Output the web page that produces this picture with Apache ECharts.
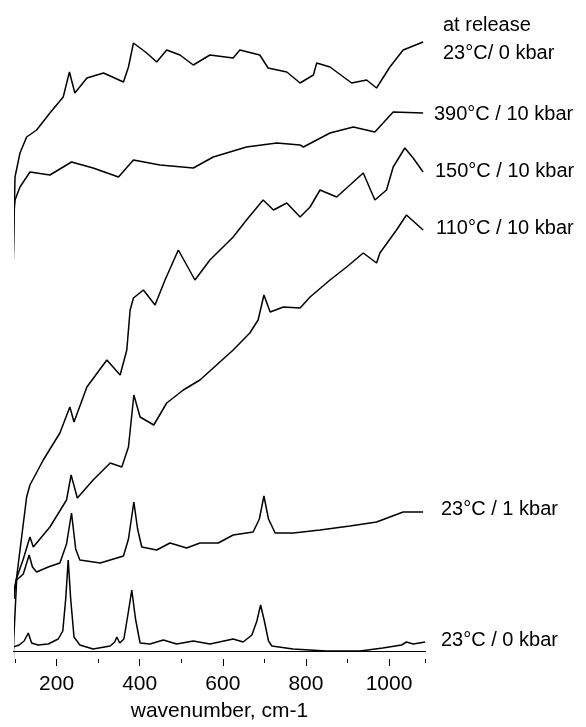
<!DOCTYPE html>
<html>
<head>
<meta charset="utf-8">
<script src="https://cdn.jsdelivr.net/npm/echarts@6/dist/echarts.min.js"></script>
<style>html,body{margin:0;padding:0;background:#fff}#c{width:586px;height:727px}</style>
</head>
<body>
<div id="c"></div>
<script>
// x axis
const xMin = 100, xMax = 1088, minorInterval = 100;
const labelMin = 200, labelInterval = 200;
const xLineStart = 96;
const xTitle = 'wavenumber, cm-1';

// spectra: [wavenumber, intensity (arb. units, offset stacked)]
const spec23C_0kbar = [[96,12],[110,14],[122,18],[132,26],[140,16],[155,14],[180,15],[204,20],[215,28],[222,60],[228,99],[234,60],[242,22],[256,14],[288,10],[329,13],[340,17],[345,22],[352,16],[362,20],[372,45],[381,69],[390,40],[401,16],[425,15],[457,19],[489,15],[529,18],[569,15],[625,20],[649,17],[670,24],[682,38],[691,54],[700,38],[710,18],[718,13],[769,10],[850,8],[930,8],[985,11],[1030,14],[1042,17],[1058,15],[1087,17]];
const spec23C_1kbar = [[96,0],[97,20],[104,79],[120,85],[134,104],[142,92],[152,87],[180,92],[208,96],[224,115],[236,146],[246,110],[256,99],[305,96],[361,103],[373,120],[386,157],[395,130],[405,112],[441,109],[473,116],[513,111],[545,116],[589,116],[625,124],[673,127],[688,140],[699,163],[710,140],[726,126],[770,126],[834,129],[906,133],[970,137],[1034,147],[1082,147]];
const spec110C_10kbar = [[97,60],[98,70],[104,81],[120,100],[136,122],[144,112],[184,132],[224,159],[235,184],[250,161],[288,179],[329,196],[357,192],[373,212],[386,264],[401,242],[434,234],[465,256],[505,269],[545,279],[585,294],[625,309],[665,326],[685,339],[699,364],[714,347],[746,352],[786,351],[810,362],[858,379],[898,392],[938,406],[970,396],[978,406],[1018,429],[1042,444],[1082,429]];
const spec150C_10kbar = [[97,60],[104,82],[128,162],[136,174],[168,199],[208,226],[232,252],[242,237],[273,272],[321,299],[353,284],[369,309],[377,349],[385,361],[409,369],[437,354],[461,379],[493,409],[533,379],[569,399],[625,422],[657,439],[697,459],[722,449],[754,456],[786,442],[810,452],[834,469],[874,462],[938,486],[966,459],[994,469],[1010,492],[1038,511],[1058,501],[1082,487]];
const spec390C_10kbar = [[96,400],[97,445],[100,459],[112,472],[136,487],[184,484],[236,497],[288,491],[349,482],[385,499],[449,494],[529,491],[577,502],[657,512],[730,516],[786,514],[794,512],[858,526],[914,532],[966,527],[1010,547],[1082,546]];
const specRelease = [[95,382],[100,482],[112,506],[128,522],[152,529],[184,546],[216,562],[231,587],[244,566],[273,581],[313,586],[361,577],[373,592],[385,616],[417,606],[441,597],[465,609],[497,604],[529,594],[569,604],[625,601],[641,609],[689,604],[709,591],[754,587],[786,576],[818,584],[826,596],[858,592],[910,576],[946,579],[970,571],[1002,592],[1034,609],[1082,617]];

const spectra = [spec23C_0kbar, spec23C_1kbar, spec110C_10kbar, spec150C_10kbar, spec390C_10kbar, specRelease];
const labelTexts = ['23°C / 0 kbar', '23°C / 1 kbar', '110°C / 10 kbar', '150°C / 10 kbar', '390°C / 10 kbar', '23°C/ 0 kbar', 'at release'];

const FONT = '"Liberation Sans", Arial, Helvetica, sans-serif';
const labelPos = [[441,640],[441,509],[436,228],[435,171],[434,114],[443,53],[443,25]];

const PX = 0.41556; // px per cm-1
const R = 160.4, T = 0, B = 68, L100 = 15;

const chart = echarts.init(document.getElementById('c'), null, {renderer: 'canvas'});
chart.setOption({
  animation: false,
  backgroundColor: '#fff',
  grid: [
    {left: L100, right: R, top: T, bottom: B},
    {left: L100 + (labelMin - xMin) * PX, right: R, top: T, bottom: B},
    {left: L100 - (xMin - xLineStart) * PX, right: R, top: T, bottom: B}
  ],
  xAxis: [{
    gridIndex: 0, type: 'value', min: xMin, max: xMax, interval: minorInterval,
    axisLine: {show: false},
    axisTick: {show: true, length: 4, lineStyle: {color: '#000'}},
    axisLabel: {show: false}, splitLine: {show: false}
  }, {
    gridIndex: 1, type: 'value', min: labelMin, max: xMax, interval: labelInterval,
    axisLine: {show: false},
    axisTick: {show: true, length: 7, lineStyle: {color: '#000'}},
    axisLabel: {show: true, margin: 15, fontFamily: FONT, fontSize: 21, color: '#000',
      formatter: (v) => String(v)},
    splitLine: {show: false}
  }, {
    gridIndex: 2, type: 'value', min: xLineStart, max: xMax,
    name: xTitle, nameLocation: 'middle', nameGap: 50,
    nameTextStyle: {fontFamily: FONT, fontSize: 21, color: '#000'},
    axisLine: {show: true, lineStyle: {color: '#000', width: 1}},
    axisTick: {show: false}, axisLabel: {show: false}, splitLine: {show: false}
  }],
  yAxis: [0, 1, 2].map((g) => ({gridIndex: g, type: 'value', min: 0, max: 659, show: false})),
  series: spectra.map((d) => ({
    type: 'line', data: d, showSymbol: false, symbol: 'none', xAxisIndex: 0, yAxisIndex: 0,
    clip: false, lineStyle: {color: '#000', width: 1.5}, silent: true
  })),
  graphic: labelTexts.map((t, i) => ({
    type: 'text', x: labelPos[i][0], y: labelPos[i][1],
    style: {text: t, font: '20px ' + FONT, fill: '#000', align: 'left', verticalAlign: 'middle'}
  }))
});
</script>
</body>
</html>
